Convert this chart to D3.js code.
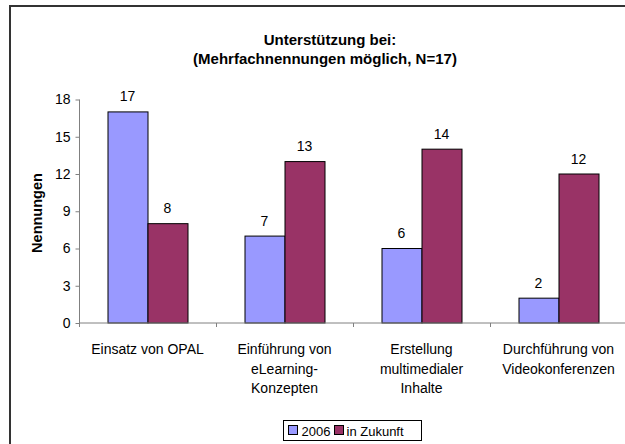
<!doctype html>
<html>
<head>
<meta charset="utf-8">
<script src="https://d3js.org/d3.v7.min.js"></script>
<style>
  body { margin: 0; background: #fff; }
  svg { display: block; font-family: "Liberation Sans", Arial, sans-serif; }
</style>
</head>
<body>
<svg width="625" height="444"></svg>
<script>
const categories = [
  ["Einsatz von OPAL"],
  ["Einführung von", "eLearning-", "Konzepten"],
  ["Erstellung", "multimedialer", "Inhalte"],
  ["Durchführung von", "Videokonferenzen"]
];
const seriesNames = ["2006", "in Zukunft"];
const values2006 = [17, 7, 6, 2];
const valuesZukunft = [8, 13, 14, 12];
const yTicks = [0, 3, 6, 9, 12, 15, 18];
const colors = ["#9999ff", "#993366"];

const svg = d3.select("svg");

// frame (top and left edges visible)
svg.append("path")
  .attr("d", "M10,444V6H625")
  .attr("fill", "none")
  .attr("stroke", "#333")
  .attr("stroke-width", 2);

// titles
svg.append("text")
  .attr("x", 330).attr("y", 45)
  .attr("text-anchor", "middle")
  .attr("font-size", 15).attr("font-weight", "bold")
  .text("Unterstützung bei:");
svg.append("text")
  .attr("x", 325).attr("y", 64)
  .attr("text-anchor", "middle")
  .attr("font-size", 15).attr("font-weight", "bold")
  .text("(Mehrfachnennungen möglich, N=17)");

const plotL = 79, plotR = 627, plotT = 99, plotB = 322.5;
const keys = categories.map((c, i) => i);

const x0 = d3.scaleBand().domain(keys).range([plotL, plotR]).padding(0);
const x1 = d3.scaleBand().domain([0, 1]).range([0, x0.bandwidth()])
  .paddingInner(0).paddingOuter(0.7125);
const y = d3.scaleLinear().domain([0, 18]).range([plotB, plotT]);

const rows = keys.map(i => [values2006[i], valuesZukunft[i]]);

// bars
const groups = svg.selectAll(".grp")
  .data(rows)
  .join("g")
    .attr("class", "grp")
    .attr("transform", (d, i) => `translate(${x0(i)},0)`);

groups.selectAll("rect")
  .data(d => d)
  .join("rect")
    .attr("x", (d, j) => x1(j) + 0.5)
    .attr("y", d => y(d) + 0.5)
    .attr("width", x1.bandwidth())
    .attr("height", d => plotB - y(d))
    .attr("fill", (d, j) => colors[j])
    .attr("stroke", "#000")
    .attr("stroke-width", 1);

groups.selectAll("text")
  .data(d => d)
  .join("text")
    .attr("x", (d, j) => x1(j) + x1.bandwidth() / 2)
    .attr("y", d => y(d) - 10)
    .attr("text-anchor", "middle")
    .attr("font-size", 14)
    .text(d => d);

// y axis
const yAxis = svg.append("g")
  .attr("transform", `translate(${plotL + 0.5},0.5)`)
  .call(d3.axisLeft(y).tickValues(yTicks).tickSize(4).tickPadding(5));
yAxis.select(".domain").attr("stroke", "#808080").attr("d", `M0,${plotT}V${plotB + 4}`);
yAxis.selectAll(".tick line").attr("stroke", "#808080");
yAxis.selectAll(".tick text").attr("font-size", 14).attr("font-family", null).attr("fill", "#000");

// x axis
const xAxisG = svg.append("g").attr("transform", `translate(0,${plotB + 0.5})`);
xAxisG.append("line")
  .attr("x1", plotL).attr("x2", plotR)
  .attr("stroke", "#808080");
xAxisG.selectAll(".xt")
  .data(keys.slice(1))
  .join("line")
    .attr("x1", i => x0(i) + 0.5).attr("x2", i => x0(i) + 0.5)
    .attr("y1", 0).attr("y2", 4)
    .attr("stroke", "#808080");

const labels = svg.selectAll(".xlab")
  .data(categories)
  .join("text")
    .attr("class", "xlab")
    .attr("text-anchor", "middle")
    .attr("font-size", 14);
labels.selectAll("tspan")
  .data((d, i) => d.map(t => ({t, i})))
  .join("tspan")
    .attr("x", d => x0(d.i) + x0.bandwidth() / 2)
    .attr("y", (d, k) => 354 + k * 19.5)
    .text(d => d.t);

// y title
svg.append("text")
  .attr("transform", "translate(42,213) rotate(-90)")
  .attr("text-anchor", "middle")
  .attr("font-size", 14.5).attr("font-weight", "bold")
  .text("Nennungen");

// legend
const lg = svg.append("g").attr("transform", "translate(283.5,420.5)");
lg.append("rect")
  .attr("width", 138).attr("height", 20)
  .attr("fill", "#fff").attr("stroke", "#000");
const items = [{x: 5, tx: 18}, {x: 51, tx: 63}];
lg.selectAll(".sw")
  .data(seriesNames)
  .join("rect")
    .attr("x", (d, i) => items[i].x).attr("y", 5)
    .attr("width", 9).attr("height", 9)
    .attr("fill", (d, i) => colors[i]).attr("stroke", "#000");
lg.selectAll(".lt")
  .data(seriesNames)
  .join("text")
    .attr("x", (d, i) => items[i].tx).attr("y", 15)
    .attr("font-size", 13)
    .text(d => d);
</script>
</body>
</html>
